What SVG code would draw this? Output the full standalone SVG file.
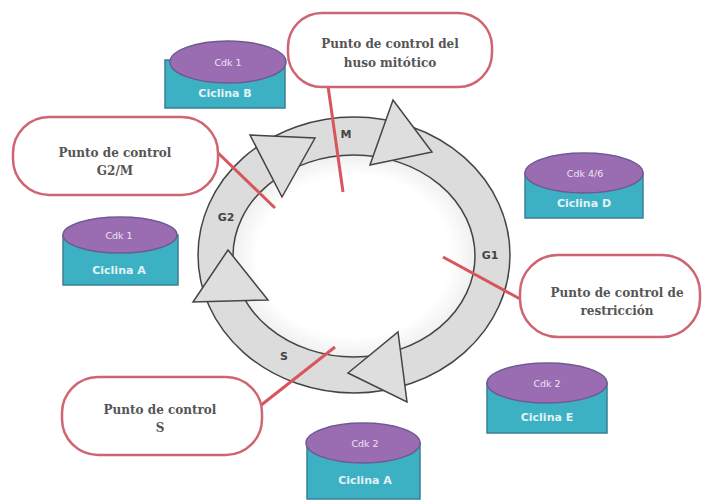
<svg xmlns="http://www.w3.org/2000/svg" width="707" height="502" viewBox="0 0 707 502">
<style>
.bub{fill:#fff;stroke:#cf6570;stroke-width:2.5}
.bt{font-family:"DejaVu Serif","Liberation Serif",serif;font-size:12px;font-weight:bold;fill:#555;text-anchor:middle}
.top{fill:#9a6db3;stroke:#6f5a8e;stroke-width:1.5}
.body{fill:#3db1c4;stroke:#3a7f94;stroke-width:1.5}
.ct{font-family:"DejaVu Sans","Liberation Sans",sans-serif;font-size:9.5px;fill:#ece4f2;text-anchor:middle}
.ct2{font-family:"DejaVu Sans","Liberation Sans",sans-serif;font-size:11px;font-weight:bold;fill:#e2f2f5;text-anchor:middle}
.tri{fill:#dedede;stroke:#444;stroke-width:1.5;stroke-linejoin:miter}
.lab{font-family:"DejaVu Sans","Liberation Sans",sans-serif;font-size:11px;font-weight:bold;fill:#444;text-anchor:middle}
.red{stroke:#d9555e;stroke-width:3;fill:none}
</style>
<defs>
<radialGradient id="inner" cx="0.5" cy="0.5" r="0.5">
<stop offset="0.8" stop-color="#ffffff"/>
<stop offset="1" stop-color="#f0f0f0"/>
</radialGradient>
</defs>
<rect width="707" height="502" fill="#ffffff"/>
<g id="ring">
<ellipse cx="354" cy="255" rx="156" ry="138" fill="#dcdcdc" stroke="#444" stroke-width="1.5"/>
<ellipse cx="354" cy="256" rx="121" ry="101" fill="url(#inner)" stroke="#444" stroke-width="1.5"/>
<polygon class="tri" points="250,135 315,138 282,197"/>
<polygon class="tri" points="393,100 432,152 370,165"/>
<polygon class="tri" points="228,250 268,300 193,302"/>
<polygon class="tri" points="398,332 407,402 348,373"/>
<text class="lab" x="346" y="138">M</text>
<text class="lab" x="226" y="221">G2</text>
<text class="lab" x="490" y="259">G1</text>
<text class="lab" x="284" y="360">S</text>
</g>
<g id="connectors">
<line class="red" x1="328" y1="86" x2="343" y2="192"/>
<line class="red" x1="215" y1="150" x2="275" y2="208"/>
<line class="red" x1="443" y1="257" x2="522" y2="300"/>
<line class="red" x1="335" y1="347" x2="260" y2="406"/>
</g>
<g id="huso">
<rect class="bub" x="288" y="13" width="204" height="74" rx="34"/>
<text class="bt" x="390" y="48">Punto de control del</text>
<text class="bt" x="390" y="67">huso mitótico</text>
</g>
<g id="g2m">
<rect class="bub" x="13" y="117" width="205" height="78" rx="36"/>
<text class="bt" x="115" y="157">Punto de control</text>
<text class="bt" x="115" y="175">G2/M</text>
</g>
<g id="restriccion">
<rect class="bub" x="520" y="255" width="180" height="82" rx="38"/>
<text class="bt" x="617" y="297">Punto de control de</text>
<text class="bt" x="617" y="315">restricción</text>
</g>
<g id="puntoS">
<rect class="bub" x="62" y="377" width="200" height="78" rx="36"/>
<text class="bt" x="160" y="414">Punto de control</text>
<text class="bt" x="160" y="432">S</text>
</g>
<g id="cdk1B">
<rect class="body" x="165" y="60" width="120" height="48"/>
<ellipse class="top" cx="228" cy="62" rx="58" ry="21"/>
<text class="ct" x="228" y="66">Cdk 1</text>
<text class="ct2" x="225" y="97">Ciclina B</text>
</g>
<g id="cdk1A">
<rect class="body" x="63" y="235" width="115" height="50"/>
<ellipse class="top" cx="120" cy="235" rx="57" ry="18"/>
<text class="ct" x="119" y="239">Cdk 1</text>
<text class="ct2" x="119" y="274">Ciclina A</text>
</g>
<g id="cdk46D">
<rect class="body" x="525" y="173" width="118" height="45"/>
<ellipse class="top" cx="584" cy="173" rx="59" ry="20"/>
<text class="ct" x="585" y="177">Cdk 4/6</text>
<text class="ct2" x="584" y="207">Ciclina D</text>
</g>
<g id="cdk2E">
<rect class="body" x="487" y="383" width="120" height="50"/>
<ellipse class="top" cx="547" cy="383" rx="60" ry="20"/>
<text class="ct" x="547" y="387">Cdk 2</text>
<text class="ct2" x="547" y="421">Ciclina E</text>
</g>
<g id="cdk2A">
<rect class="body" x="307" y="443" width="113" height="56"/>
<ellipse class="top" cx="363" cy="443" rx="57" ry="20"/>
<text class="ct" x="365" y="447">Cdk 2</text>
<text class="ct2" x="365" y="484">Ciclina A</text>
</g>
</svg>
